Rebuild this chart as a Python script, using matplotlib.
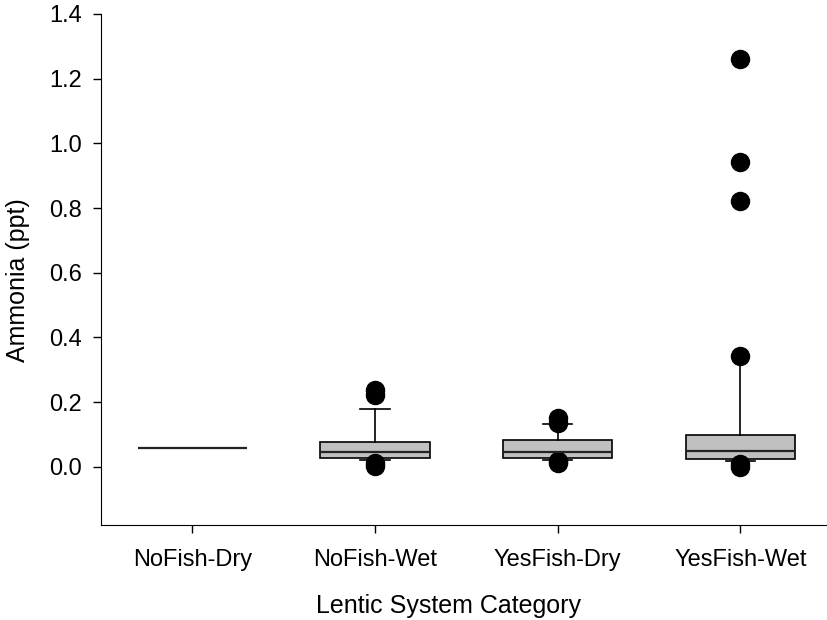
import matplotlib
matplotlib.use("Agg")
import matplotlib.pyplot as plt

plt.rcParams['font.family'] = ['Liberation Sans', 'DejaVu Sans']

categories = ["NoFish-Dry", "NoFish-Wet", "YesFish-Dry", "YesFish-Wet"]
q1 = [0.057, 0.027, 0.027, 0.025]
median = [0.057, 0.045, 0.045, 0.050]
q3 = [0.057, 0.077, 0.084, 0.097]
whisker_low = [0.057, 0.020, 0.022, 0.018]
whisker_high = [0.057, 0.179, 0.132, 0.341]
outliers = [
    [],
    [0.236, 0.221, 0.012, 0.003],
    [0.152, 0.135, 0.018, 0.012],
    [1.26, 0.942, 0.822, 0.341, 0.008, 0.0],
]

stats = []
for i, c in enumerate(categories):
    stats.append(dict(label=c, q1=q1[i], med=median[i], q3=q3[i],
                      whislo=whisker_low[i], whishi=whisker_high[i],
                      fliers=outliers[i]))

fig = plt.figure(figsize=(8.28, 6.2), dpi=100)
ax = fig.add_axes([101/828, 1-525/620, 1-101/828, (525-14)/620])

bp = ax.bxp(stats, positions=[1, 2, 3, 4], widths=0.6, patch_artist=True,
            capwidths=0.16,
            boxprops=dict(facecolor='#c0c0c0', edgecolor='black', linewidth=1.2),
            medianprops=dict(color='#222222', linewidth=1.6),
            whiskerprops=dict(color='black', linewidth=1.2),
            capprops=dict(color='black', linewidth=1.2),
            flierprops=dict(marker='o', markerfacecolor='black', markeredgecolor='black',
                            markersize=13, linestyle='none'))
# upper cap of last group is hidden under the outlier in the reference
bp['caps'][7].set_visible(False)

ax.set_xlim(0.5, 4.48)
ax.set_ylim(-0.18, 1.4)
yt = [0.0, 0.2, 0.4, 0.6, 0.8, 1.0, 1.2, 1.4]
ax.set_yticks(yt)
ax.set_yticklabels([f"{v:.1f}" for v in yt])
ax.set_xticks([1, 2, 3, 4])
ax.set_xticklabels(categories)
ax.spines['top'].set_visible(False)
ax.spines['right'].set_visible(False)
ax.tick_params(direction='out', length=6, width=1, labelsize=17, pad=8)
ax.tick_params(axis='x', pad=11)
ax.set_ylabel("Ammonia (ppt)", fontsize=18)
ax.set_xlabel("Lentic System Category", fontsize=18)
ax.yaxis.set_label_coords((30 - 101) / 727, (525 - 280) / 511)
ax.xaxis.set_label_coords((449 - 101) / 727, (525 - 594) / 511)

fig.savefig("out.png", dpi=100)
